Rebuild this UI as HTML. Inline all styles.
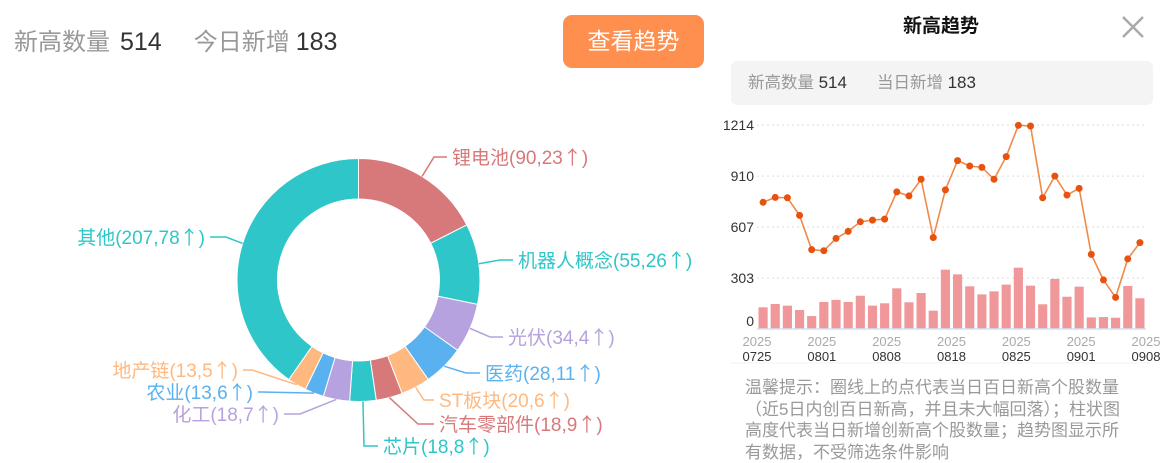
<!DOCTYPE html>
<html><head><meta charset="utf-8">
<style>
*{margin:0;padding:0;box-sizing:border-box}
body{width:1163px;height:463px;background:#fff;font-family:"Liberation Sans","Noto Sans CJK SC",sans-serif;position:relative;overflow:hidden}
.abs{position:absolute;white-space:nowrap}
.n{font-size:25px;margin-left:10px}
</style></head><body>
<div class="abs" style="left:14px;top:27px;font-size:24px;line-height:30px;color:#999">新高数量<span class="n" style="color:#333">514</span><span style="display:inline-block;width:32px"></span>今日新增<span class="n" style="color:#333;margin-left:6px">183</span></div>
<div class="abs" style="left:563px;top:15px;width:141px;height:53px;background:#ff8f4f;border-radius:9px;color:#fff;font-size:23px;line-height:53px;text-align:center">查看趋势</div>

<svg class="abs" style="left:0;top:110px" width="720" height="353" id="donut"></svg>

<div class="abs" style="left:841px;top:14px;width:200px;text-align:center;font-size:19px;font-weight:bold;color:#111;line-height:26px">新高趋势</div>
<div class="abs" style="left:1120px;top:14px;width:26px;height:26px">
<svg width="26" height="26"><path d="M3 3L23 23M23 3L3 23" stroke="#aaa" stroke-width="2.5"/></svg></div>
<div class="abs" style="left:731px;top:61px;width:422px;height:44px;background:#f4f4f4;border-radius:6px;padding-left:17px;font-size:16.5px;line-height:44px;color:#999">新高数量 <span style="color:#333;font-size:17px">514</span><span style="display:inline-block;width:30px"></span>当日新增 <span style="color:#333;font-size:17px">183</span></div>

<svg class="abs" style="left:720px;top:105px" width="443" height="260" id="trend"></svg>

<div class="abs" style="left:745px;top:377px;font-size:17px;line-height:21.5px;color:#999">温馨提示：圈线上的点代表当日百日新高个股数量<br>（近5日内创百日新高，并且未大幅回落）；柱状图<br>高度代表当日新增创新高个股数量；趋势图显示所<br>有数据，不受筛选条件影响</div>

<script>
const NS="http://www.w3.org/2000/svg";
function mk(p,t,a){const e=document.createElementNS(NS,t);for(const k in a)e.setAttribute(k,a[k]);p.appendChild(e);return e;}

// ---- donut data ----
const sectorNames=["锂电池","机器人概念","光伏","医药","ST板块","汽车零部件","芯片","化工","农业","地产链","其他"];
const sectorTotals=[90,55,34,28,20,18,18,18,13,13,207];
const sectorNew=[23,26,4,11,6,9,8,7,6,5,78];
const sectorColors=["#d7797b","#2ec6c8","#b6a2de","#5ab1ef","#ffb980","#d7797b","#2ec6c8","#b6a2de","#5ab1ef","#ffb980","#2ec6c8"];
// label layout: [elbowX, elbowY, endX, textAnchor]
const labelLayout=[[434,157,447,"start"],[500,260,513,"start"],[490,337,503,"start"],[466,373,480,"start"],[424,400,434,"start"],[418,424,434,"start"],[364,446,378,"start"],[300,414,284,"end"],[262,392,258,"end"],[252,370,243,"end"],[226,237,210,"end"]];

const d=document.getElementById("donut");
const cx=358.5,cy=280-110,R=121.5,r=81;
const total=sectorTotals.reduce((a,b)=>a+b,0);
let ang=0;
sectorTotals.forEach((v,i)=>{
  const a0=ang,a1=ang+v/total*Math.PI*2;ang=a1;
  const p=(a,rr)=>[cx+rr*Math.sin(a),cy-rr*Math.cos(a)];
  const lg=(a1-a0)>Math.PI?1:0;
  const [x0,y0]=p(a0,R),[x1,y1]=p(a1,R),[x2,y2]=p(a1,r),[x3,y3]=p(a0,r);
  const s=mk(d,"path",{d:`M${x0} ${y0}A${R} ${R} 0 ${lg} 1 ${x1} ${y1}L${x2} ${y2}A${r} ${r} 0 ${lg} 0 ${x3} ${y3}Z`,fill:sectorColors[i],stroke:"#fff","stroke-width":1});
  
  
  const m=(a0+a1)/2,[mx,my]=p(m,R);
  const L=labelLayout[i];
  const ln=mk(d,"polyline",{points:`${mx},${my} ${L[0]},${L[1]-110} ${L[2]},${L[1]-110}`,fill:"none",stroke:sectorColors[i],"stroke-width":1.5});
  
  
  const tx=mk(d,"text",{x:L[3]==="start"?L[2]+5:L[2]-5,y:L[1]-110+7,"text-anchor":L[3],"font-size":19,fill:sectorColors[i]});
  tx.appendChild(document.createTextNode(sectorNames[i]+"("+sectorTotals[i]+","+sectorNew[i]));
  const ar=mk(tx,"tspan",{"font-family":"Noto Sans CJK SC, sans-serif"});ar.textContent="↑";
  tx.appendChild(document.createTextNode(")"));
  
  
});

// ---- trend data ----
const highCounts=[754,783,781,676,472,466,539,581,638,648,654,816,792,891,544,828,1002,970,962,891,1026,1212,1208,781,910,797,837,444,292,188,417,514];
const newCounts=[129,149,139,113,77,161,173,161,198,139,153,242,159,214,109,353,325,254,206,224,264,365,258,147,298,192,252,69,71,67,256,183];
const yTicks=[0,303,607,910,1214];
const xTickTop=["2025","2025","2025","2025","2025","2025","2025"];
const xTickBottom=["0725","0801","0808","0818","0825","0901","0908"];

const t=document.getElementById("trend");
const X0=757-720,X1=1146-720,Y0=329-105,YMAX=1214,PH=204;
const n=highCounts.length,bw=(X1-X0)/n;
const y=v=>Y0-v/YMAX*PH;
const xc=i=>X0+(i+0.5)*bw;
yTicks.forEach((v,i)=>{
  if(v>0){const g=mk(t,"line",{x1:X0,x2:X1,y1:y(v),y2:y(v),stroke:"#ddd","stroke-dasharray":"2,3"});
  }
  const l=mk(t,"text",{x:34,y:y(v)+(v===0?-3:5),"text-anchor":"end","font-size":14,fill:"#333"});
  l.textContent=v;
  
});
newCounts.forEach((v,i)=>{
  const b=mk(t,"rect",{x:X0+i*bw+1.5,y:y(v),width:bw-3,height:Y0-y(v),fill:"#f0979a"});
  
  
});
const ax=mk(t,"line",{x1:X0,x2:X1,y1:Y0,y2:Y0,stroke:"#cfe3f7","stroke-width":1.5});

const pl=mk(t,"polyline",{points:highCounts.map((v,i)=>xc(i)+","+y(v)).join(" "),fill:"none",stroke:"#f08a4b","stroke-width":1.6});

highCounts.forEach((v,i)=>{
  const c=mk(t,"circle",{cx:xc(i),cy:y(v),r:3.5,fill:"#e8520f"});
  
  
});
xTickBottom.forEach((s,i)=>{
  const x=X0+i*(X1-X0)/(xTickBottom.length-1);
  const a=mk(t,"text",{x:x,y:241,"text-anchor":"middle","font-size":13,fill:"#aaa"});a.textContent=xTickTop[i];
  
  const b=mk(t,"text",{x:x,y:256,"text-anchor":"middle","font-size":13,fill:"#333"});b.textContent=s;
  
});
const sep=mk(t,"line",{x1:10,x2:430,y1:258,y2:258,stroke:"#f0f0f0"});

</script>
</body></html>
